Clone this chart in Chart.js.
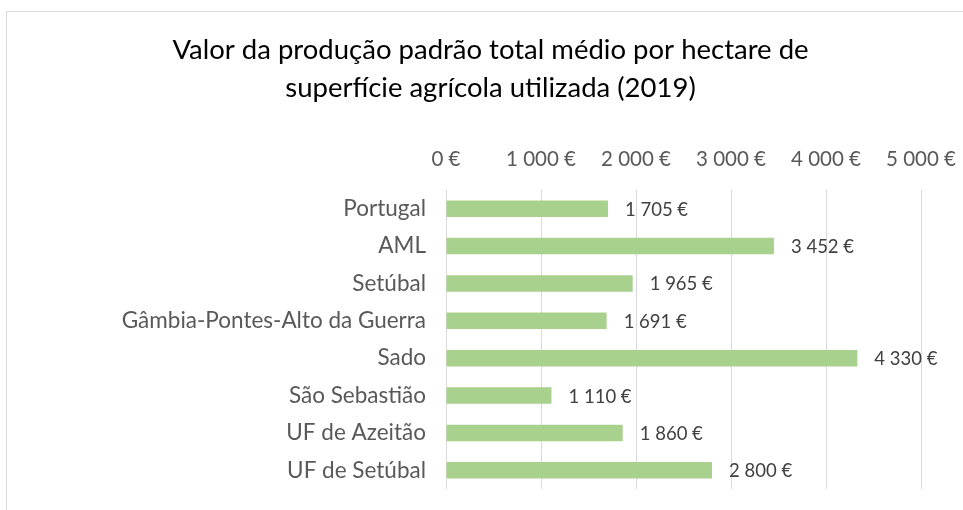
<!DOCTYPE html>
<html>
<head>
<meta charset="utf-8">
<script src="https://cdn.jsdelivr.net/npm/chart.js"></script>
<style>
  html, body { margin: 0; padding: 0; background: #fff; }
  #wrap { width: 963px; height: 510px; position: relative; }
</style>
</head>
<body>
<div id="wrap"><canvas id="chart"></canvas></div>
<script>
// Dados
const categorias = ['Portugal', 'AML', 'Setúbal', 'Gâmbia-Pontes-Alto da Guerra', 'Sado', 'São Sebastião', 'UF de Azeitão', 'UF de Setúbal'];
const valores = [1705, 3452, 1965, 1691, 4330, 1110, 1860, 2800];
const tituloLinhas = ['Valor da produção padrão total médio por hectare de', 'superfície agrícola utilizada (2019)'];

const FONTE = 'Lato, "Open Sans", sans-serif';
const TITULO_PX = 27.5;
const TITULO_LH = 1.38;

function euros(v) {
    return String(Math.round(v)).replace(/\B(?=(\d{3})+(?!\d))/g, ' ') + ' €';
}

// moldura cinzenta à volta do gráfico
const moldura = {
    id: 'moldura',
    beforeDraw(chart) {
        const ctx = chart.ctx;
        ctx.save();
        ctx.strokeStyle = '#d9d9d9';
        ctx.lineWidth = 1;
        ctx.strokeRect(6.5, 11.5, 1200, 1200);
        ctx.restore();
    }
};

// rótulos de valor à direita das barras
const rotulos = {
    id: 'rotulos',
    afterDatasetsDraw(chart) {
        const ctx = chart.ctx;
        const meta = chart.getDatasetMeta(0);
        ctx.save();
        ctx.font = '18.5px ' + FONTE;
        ctx.fillStyle = '#404040';
        ctx.textBaseline = 'middle';
        ctx.textAlign = 'left';
        meta.data.forEach((bar, i) => {
            ctx.fillText(euros(valores[i]), bar.x + 17, bar.y + 1);
        });
        ctx.restore();
    }
};

new Chart(document.getElementById('chart'), {
    type: 'bar',
    data: {
        labels: categorias,
        datasets: [{
            data: valores,
            backgroundColor: '#a9d18e',
            borderWidth: 0,
            barPercentage: 0.44,
            categoryPercentage: 1
        }]
    },
    options: {
        indexAxis: 'y',
        responsive: true,
        maintainAspectRatio: false,
        animation: false,
        layout: { padding: { left: 18, right: 0, top: 12, bottom: 21 } },
        plugins: {
            legend: { display: false },
            tooltip: { enabled: false },
            title: {
                display: true,
                text: tituloLinhas,
                color: '#000',
                font: { family: FONTE, size: TITULO_PX, weight: 'normal', lineHeight: TITULO_LH },
                padding: { top: 19, bottom: 2 }
            }
        },
        scales: {
            x: {
                position: 'top',
                min: 0,
                max: 5000,
                ticks: {
                    stepSize: 1000,
                    color: '#595959',
                    font: { family: FONTE, size: 20.5 },
                    padding: 18,
                    callback: v => euros(v)
                },
                grid: { color: '#d9d9d9', drawTicks: false },
                border: { display: false },
                afterFit(scale) {
                    scale.height = 190 - 12 - 21 - 2 * TITULO_PX * TITULO_LH;
                    scale.paddingLeft = 0;
                    scale.paddingRight = 42;
                }
            },
            y: {
                ticks: {
                    color: '#595959',
                    font: { family: FONTE, size: 22.5 },
                    padding: 12
                },
                grid: { display: false },
                border: { display: false },
                afterFit(scale) {
                    scale.width = 446 - 18;
                    scale.paddingTop = 0;
                    scale.paddingBottom = 0;
                }
            }
        }
    },
    plugins: [moldura, rotulos]
});
</script>
</body>
</html>
